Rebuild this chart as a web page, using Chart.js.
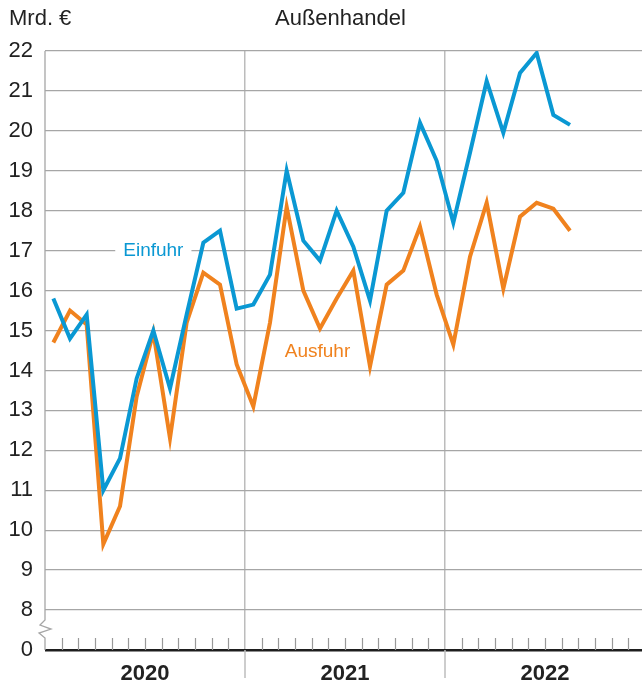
<!DOCTYPE html>
<html>
<head>
<meta charset="utf-8">
<script src="https://cdn.jsdelivr.net/npm/chart.js@4"></script>
<style>
html, body { margin: 0; padding: 0; background: #fff; overflow: hidden; }
#wrap { position: relative; width: 642px; height: 686px; overflow: hidden; }
#wrap canvas { position: absolute; left: 0; top: 0; }
.lbl { position: absolute; top: 5px; font: 22px "Liberation Sans", Arial, sans-serif; color: #222; line-height: 26px; white-space: nowrap; }
</style>
</head>
<body>
<div id="wrap">
  <canvas id="chart" width="646" height="686"></canvas>
  <div class="lbl" style="left:9px">Mrd. €</div>
  <div class="lbl" style="left:275px">Außenhandel</div>
</div>
<script>
// Jahre auf der x-Achse
const years = ["2020", "2021", "2022"];

// Monatswerte in Mrd. € (Jan 2020 - Aug 2022)
const einfuhr = [
  15.8, 14.8, 15.4, 11.0, 11.8, 13.8, 15.0, 13.55, 15.4, 17.2, 17.5, 15.55,
  15.65, 16.4, 19.0, 17.25, 16.75, 18.0, 17.1, 15.75, 18.0, 18.45, 20.2, 19.25,
  17.7, 19.45, 21.25, 19.95, 21.45, 21.95, 20.4, 20.15
];
const ausfuhr = [
  14.7, 15.5, 15.15, 9.65, 10.6, 13.35, 14.95, 12.3, 15.2, 16.45, 16.15, 14.15,
  13.1, 15.2, 18.1, 16.0, 15.05, 15.8, 16.5, 14.1, 16.15, 16.5, 17.6, 15.9,
  14.65, 16.85, 18.2, 16.05, 17.85, 18.2, 18.05, 17.5
];

// y-Achse: 7 steht für die gebrochene Null
const yTicks = [7, 8, 9, 10, 11, 12, 13, 14, 15, 16, 17, 18, 19, 20, 21, 22];

const BLUE = "#0a98d3";
const ORANGE = "#f0821e";
const GRID = "#a6a6a6";
const FONT = '"Liberation Sans", Arial, sans-serif';

function toPoints(values) {
  return values.map((v, i) => ({ x: i + 0.5, y: v }));
}

// Zusatzelemente: Monatsstriche, Achsenbruch, Beschriftungen
const decor = {
  id: "decor",
  beforeDatasetsDraw(chart) {
    const ctx = chart.ctx;
    const xs = chart.scales.x;
    const ys = chart.scales.y;
    const area = chart.chartArea;
    ctx.save();

    // Monatsstriche
    ctx.strokeStyle = "#999";
    ctx.lineWidth = 1.2;
    for (let m = 1; m < 36; m++) {
      if (m % 12 === 0) continue;
      const x = Math.round(xs.getPixelForValue(m)) + 0.5;
      ctx.beginPath();
      ctx.moveTo(x, area.bottom - 12);
      ctx.lineTo(x, area.bottom);
      ctx.stroke();
    }

    // Jahreslinien unter die Achse verlängern
    ctx.strokeStyle = "#bcbcbc";
    ctx.lineWidth = 1.5;
    [12, 24].forEach(m => {
      const x = xs.getPixelForValue(m);
      ctx.beginPath();
      ctx.moveTo(x, area.bottom);
      ctx.lineTo(x, 678);
      ctx.stroke();
    });

    // linke Achse mit Bruch
    const x0 = area.left;
    const y8 = ys.getPixelForValue(8);
    ctx.strokeStyle = GRID;
    ctx.lineWidth = 1.3;
    ctx.beginPath();
    ctx.moveTo(x0, area.top);
    ctx.lineTo(x0, y8 + 10);
    ctx.lineTo(x0 - 5, y8 + 15);
    ctx.lineTo(x0 + 6, y8 + 19);
    ctx.lineTo(x0 - 6, y8 + 23);
    ctx.lineTo(x0, y8 + 28);
    ctx.lineTo(x0, area.bottom);
    ctx.stroke();
    ctx.restore();
  },
  afterDatasetsDraw(chart) {
    const ctx = chart.ctx;
    const xs = chart.scales.x;
    const ys = chart.scales.y;
    ctx.save();
    ctx.font = "19px " + FONT;
    ctx.textAlign = "center";
    ctx.textBaseline = "middle";

    const ex = xs.getPixelForValue(6.5);
    const ey = ys.getPixelForValue(17);
    const w = ctx.measureText("Einfuhr").width;
    ctx.fillStyle = "#fff";
    ctx.fillRect(ex - w / 2 - 8, ey - 3, w + 16, 6);
    ctx.fillStyle = BLUE;
    ctx.fillText("Einfuhr", ex, ey);

    ctx.fillStyle = ORANGE;
    ctx.fillText("Ausfuhr", xs.getPixelForValue(16.35), ys.getPixelForValue(14.48));
    ctx.restore();
  }
};

new Chart(document.getElementById("chart"), {
  type: "line",
  data: {
    datasets: [
      {
        label: "Einfuhr",
        data: toPoints(einfuhr),
        borderColor: BLUE,
        borderWidth: 4,
        pointRadius: 0,
        borderJoinStyle: "miter",
        tension: 0
      },
      {
        label: "Ausfuhr",
        data: toPoints(ausfuhr),
        borderColor: ORANGE,
        borderWidth: 4,
        pointRadius: 0,
        borderJoinStyle: "miter",
        tension: 0
      }
    ]
  },
  options: {
    responsive: false,
    animation: false,
    layout: { padding: { top: 51, right: 1, left: 0, bottom: 0 } },
    plugins: { legend: { display: false }, tooltip: { enabled: false } },
    scales: {
      x: {
        type: "linear",
        min: 0,
        max: 36,
        afterFit: s => { s.height = 36; s.paddingLeft = 0; s.paddingRight = 0; },
        border: { display: false },
        grid: {
          drawTicks: false,
          lineWidth: 1.5,
          color: c => (c.tick && c.tick.value % 12 === 0 && c.tick.value > 0 && c.tick.value < 36) ? "#bcbcbc" : "rgba(0,0,0,0)"
        },
        ticks: {
          stepSize: 6,
          autoSkip: false,
          maxRotation: 0,
          padding: 11,
          color: "#222",
          font: { family: FONT, size: 22, weight: "bold" },
          callback: v => (v % 12 === 6 ? years[(v - 6) / 12] : "")
        }
      },
      y: {
        min: 7,
        max: 22,
        afterFit: s => { s.width = 45; },
        afterBuildTicks: s => { s.ticks = yTicks.map(v => ({ value: v })); },
        border: { display: false },
        grid: {
          drawTicks: false,
          color: c => (c.tick && c.tick.value === 7 ? "#1e1e1e" : GRID),
          lineWidth: c => (c.tick && c.tick.value === 7 ? 2.5 : 1.3)
        },
        ticks: {
          padding: 12,
          color: "#222",
          font: { family: FONT, size: 22 },
          callback: v => (v === 7 ? "0" : String(v))
        }
      }
    }
  },
  plugins: [decor]
});
</script>
</body>
</html>
